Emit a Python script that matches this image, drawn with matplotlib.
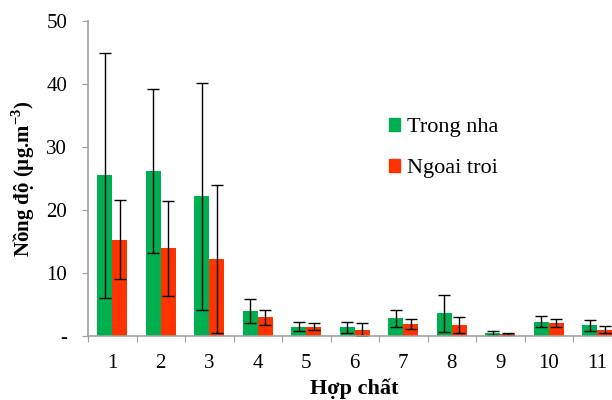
import numpy as np
import matplotlib
matplotlib.use('Agg')
from matplotlib import pyplot as plt
from matplotlib.patches import Patch

compounds = ['1', '2', '3', '4', '5', '6', '7', '8', '9', '10', '11']
trong_nha = [25.5, 26.2, 22.2, 3.9, 1.5, 1.4, 2.8, 3.6, 0.5, 2.3, 1.7]
trong_nha_sd = [19.5, 13.0, 18.0, 1.9, 0.75, 0.9, 1.4, 2.9, 0.3, 0.8, 0.9]
ngoai_troi = [15.3, 13.9, 12.2, 3.0, 1.5, 1.0, 1.9, 1.7, 0.3, 2.1, 1.0]
ngoai_troi_sd = [6.3, 7.6, 11.7, 1.2, 0.5, 1.0, 0.8, 1.3, 0.1, 0.6, 0.6]
yticks = [0, 10, 20, 30, 40, 50]
ytick_labels = ['-', '10', '20', '30', '40', '50']

green = '#00B050'
red = '#FF3300'
grey = '#A0A0A0'
serif = ['Liberation Serif', 'DejaVu Serif']

fig = plt.figure(figsize=(6.12, 4.0), dpi=100)
ax = fig.add_axes([88/612, 64/400, 533.5/612, 315/400])

x = np.arange(1, len(compounds) + 1)
w = 0.31
err_kw = dict(ecolor='black', elinewidth=1.0, capsize=4.3, capthick=1.0)
ax.bar(x - w/2, trong_nha, w, color=green, yerr=trong_nha_sd, error_kw=err_kw, zorder=2)
ax.bar(x + w/2, ngoai_troi, w, color=red, yerr=ngoai_troi_sd, error_kw=err_kw, zorder=2)

ax.set_xlim(0.5, 11.5)
ax.set_ylim(0, 50)
ax.set_yticks(yticks)
ax.set_yticklabels(ytick_labels, fontfamily=serif, fontsize=15)
ax.set_xticks(np.arange(0.5, 12, 1))
ax.set_xticklabels([])
ax.set_xticks(x, minor=True)
ax.set_xticklabels(compounds, minor=True, fontfamily=serif, fontsize=15)
ax.tick_params(axis='x', which='minor', length=0, pad=13)
ax.tick_params(axis='x', which='major', length=4, color=grey, direction='out')
ax.tick_params(axis='y', length=4, color=grey, direction='out', pad=11)

for s in ['top', 'right']:
    ax.spines[s].set_visible(False)
for s in ['left', 'bottom']:
    ax.spines[s].set_color(grey)
    ax.spines[s].set_linewidth(1.2)

ax.set_ylabel('Nồng độ (µg.m$^{\\mathregular{-3}}$)', fontfamily=serif, fontsize=15,
              fontweight='bold')
ax.yaxis.set_label_coords(-0.095, 0.5)
fig.text(354/612, 1 - 389/400, 'Hợp chất', fontfamily=serif, fontsize=16,
         fontweight='bold', ha='center', va='center')

handles = [Patch(color=green, label='Trong nha'), Patch(color=red, label='Ngoai troi')]
ax.legend(handles=handles, loc='upper left', bbox_to_anchor=(0.527, 0.756), frameon=False,
          prop={'family': serif, 'size': 16}, handlelength=0.5, handleheight=0.5,
          handletextpad=0.3, labelspacing=0.98)

fig.savefig('out.png', dpi=100)
